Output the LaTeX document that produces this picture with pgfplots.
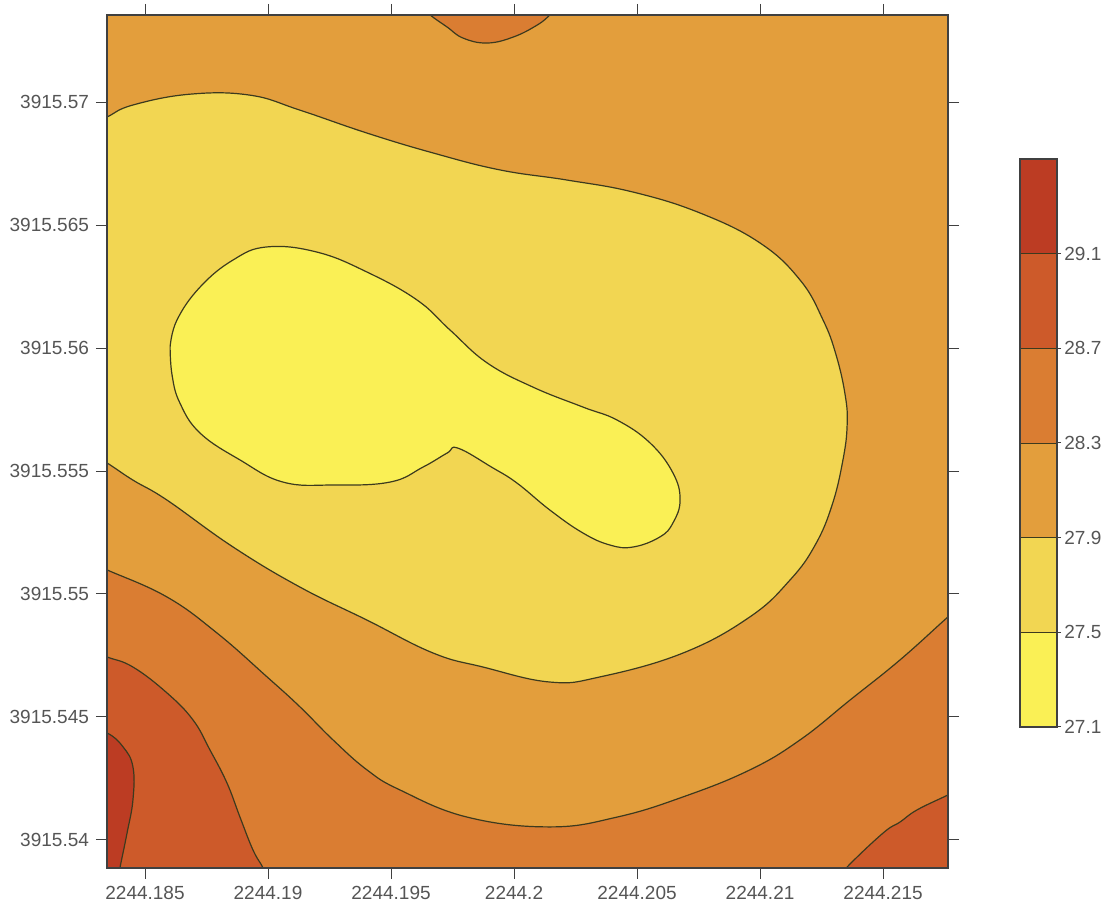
\documentclass[border=0pt]{standalone}
\usepackage{pgfplots}
\pgfplotsset{compat=1.18}
\usepackage{fontspec}
\setmainfont{Liberation Sans}
\definecolor{cY1}{RGB}{250,240,85}
\definecolor{cY2}{RGB}{242,214,82}
\definecolor{cG}{RGB}{227,158,60}
\definecolor{cO}{RGB}{218,125,50}
\definecolor{cD}{RGB}{205,90,42}
\definecolor{cR}{RGB}{188,60,35}
\definecolor{cL}{RGB}{60,58,30}
\definecolor{cT}{RGB}{85,85,85}
\begin{document}
\begin{tikzpicture}[x=1pt,y=1pt]
\useasboundingbox (0,0) rectangle (551.5,454);
\begin{axis}[
  at={(53.5pt,20pt)}, anchor=south west,
  scale only axis, width=420.5pt, height=426.5pt,
  xmin=3.455, xmax=37.64, ymin=-1.14, ymax=33.54,
  axis on top,
  axis background/.style={fill=cG},
  tick align=outside, major tick length=5.5pt,
  xtick={5,10,15,20,25,30,35},
  xticklabels={2244.185,2244.19,2244.195,2244.2,2244.205,2244.21,2244.215},
  ytick={0,5,10,15,20,25,30},
  yticklabels={3915.54,3915.545,3915.55,3915.555,3915.56,3915.565,3915.57},
  ticklabel style={font=\fontsize{9.5}{11}\selectfont, text=cT},
  axis line style={draw=black!75, line width=0.6pt},
  every tick/.style={draw=black!75, line width=0.5pt},
  contour/.style={draw=cL, line width=0.6pt, smooth, tension=0.7},
]
% top blob 28.3-28.7
\addplot[contour, fill=cO] coordinates {
(16.18,33.94) (16.59,33.54) (17.28,33.05) (17.93,32.60) (18.90,32.40) (19.96,32.64) (20.94,33.13) (21.46,33.54) (21.87,33.94)
} -- cycle;
% 27.5-27.9 region
\addplot[contour, fill=cY2] coordinates {
(2.5,28.9) (3.455,29.39) (4.51,29.88) (6.83,30.32) (9.27,30.28) (11.30,29.67) (14.02,28.74) (16.71,27.93) (19.43,27.24) (22.15,26.83) (24.84,26.34) (27.56,25.49) (30.00,24.27) (31.63,22.76) (32.56,21.14) (33.09,19.72) (33.46,18.09) (33.54,16.87) (33.37,15.45) (32.93,13.62) (32.24,11.99) (31.22,10.57) (29.59,9.07) (26.87,7.60) (23.50,6.63) (21.46,6.42) (18.74,7.03) (16.71,7.60) (14.02,8.94) (11.30,10.28) (8.58,11.91) (5.89,13.82) (4.51,14.63) (3.455,15.33) (2.5,15.9)
} -- cycle;
% 27.1-27.5 blob
\addplot[contour, fill=cY1] coordinates {
(6.02,20.04) (6.30,21.14) (7.24,22.48) (8.58,23.58) (9.96,24.11) (11.99,23.90) (14.02,23.09) (16.06,21.95) (17.40,20.73) (18.90,19.40) (20.77,18.41) (22.80,17.60) (24.19,17.07) (25.53,16.14) (26.46,14.92) (26.75,13.82) (26.46,12.89) (25.93,12.32) (24.84,11.91) (23.90,11.99) (22.80,12.48) (21.46,13.41) (20.12,14.51) (19.10,15.15) (17.72,15.93) (17.28,15.73) (16.30,15.16) (14.96,14.55) (12.64,14.43) (10.61,14.55) (8.86,15.45) (7.24,16.54) (6.42,17.76) (6.10,18.90) (6.02,20.04)
} -- cycle;
% 28.3-28.7 lower band
\addplot[contour, fill=cO] coordinates {
(2.5,11.4) (3.455,10.98) (5.89,9.88) (7.93,8.41) (9.96,6.63) (11.30,5.41) (12.64,4.07) (14.02,2.85) (15.37,2.03) (18.09,0.93) (21.46,0.53) (24.19,0.93) (26.87,1.75) (29.59,2.85) (31.63,4.07) (33.66,5.69) (35.69,7.32) (37.64,9.07) (38.6,9.9) (39,-3) (2,-3)
} -- cycle;
% 28.7-29.1 bottom left
\addplot[contour, fill=cD] coordinates {
(2.5,7.8) (3.455,7.44) (4.51,7.03) (5.89,5.98) (6.95,4.88) (7.64,3.66) (8.33,2.32) (8.86,0.93) (9.39,-0.41) (9.80,-1.14) (9.96,-1.63) (2.5,-2)
} -- cycle;
% 28.7-29.1 bottom right
\addplot[contour, fill=cD] coordinates {
(33.17,-1.63) (33.54,-1.10) (35.00,0.28) (35.69,0.73) (36.38,1.22) (37.64,1.83) (38.6,2.3) (39,-3)
} -- cycle;
% 29.1+ bottom left strip
\addplot[contour, fill=cR] coordinates {
(2.5,4.6) (3.455,4.35) (4.11,3.78) (4.51,2.97) (4.51,1.63) (4.27,0.28) (3.98,-1.14) (3.90,-1.63) (2.5,-2)
} -- cycle;
\end{axis}
\begin{axis}[
  at={(510pt,90.5pt)}, anchor=south west,
  scale only axis, width=18.5pt, height=284pt,
  xmin=0, xmax=1, ymin=27.1, ymax=29.5,
  axis on top,
  xtick=\empty,
  ytick={27.1,27.5,27.9,28.3,28.7,29.1},
  yticklabels={27.1,27.5,27.9,28.3,28.7,29.1},
  ytick pos=right, yticklabel pos=right,
  tick align=outside, major tick length=2pt,
  yticklabel style={font=\fontsize{9.5}{11}\selectfont, text=cT, inner sep=1.5pt},
  axis line style={draw=black!75, line width=0.6pt},
  every tick/.style={draw=black!75, line width=0.5pt},
]
\addplot[fill=cY1, draw=cL] coordinates {(0,27.1) (1,27.1) (1,27.5) (0,27.5)} -- cycle;
\addplot[fill=cY2, draw=cL] coordinates {(0,27.5) (1,27.5) (1,27.9) (0,27.9)} -- cycle;
\addplot[fill=cG, draw=cL] coordinates {(0,27.9) (1,27.9) (1,28.3) (0,28.3)} -- cycle;
\addplot[fill=cO, draw=cL] coordinates {(0,28.3) (1,28.3) (1,28.7) (0,28.7)} -- cycle;
\addplot[fill=cD, draw=cL] coordinates {(0,28.7) (1,28.7) (1,29.1) (0,29.1)} -- cycle;
\addplot[fill=cR, draw=cL] coordinates {(0,29.1) (1,29.1) (1,29.5) (0,29.5)} -- cycle;
\end{axis}
\end{tikzpicture}
\end{document}
